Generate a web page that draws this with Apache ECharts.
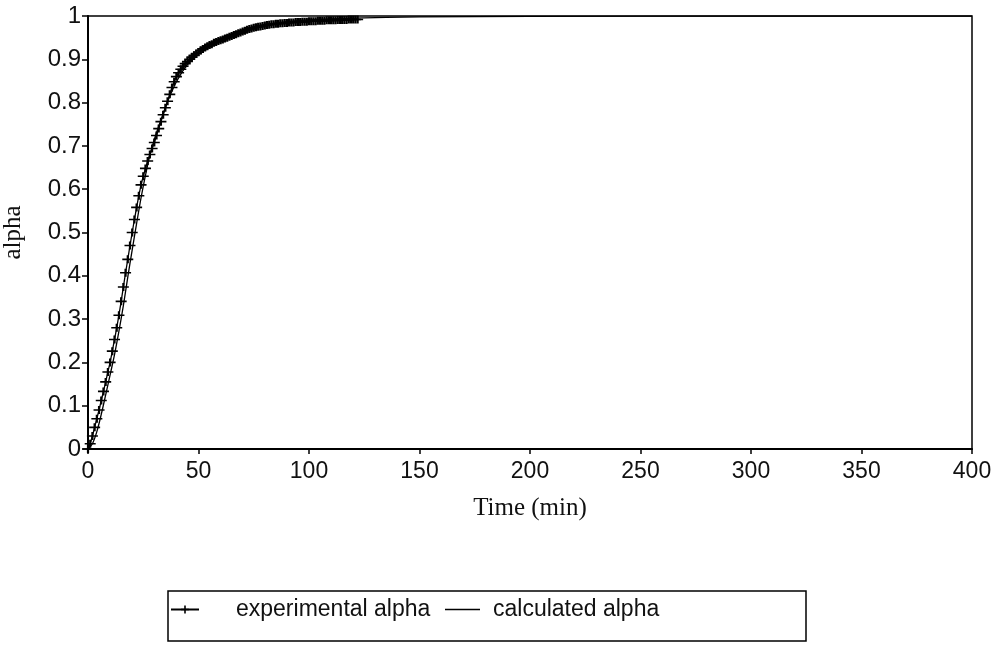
<!DOCTYPE html>
<html>
<head>
<meta charset="utf-8">
<script src="https://cdn.jsdelivr.net/npm/echarts@6/dist/echarts.min.js"></script>
<style>
html,body{margin:0;padding:0;background:#fff;}
#chart{width:1002px;height:646px;}
</style>
</head>
<body>
<div id="chart"></div>
<script>
// Experimental alpha, one reading per minute (t = 0..122 min)
var expTime = [0,1,2,3,4,5,6,7,8,9,10,11,12,13,14,15,16,17,18,19,20,21,22,23,24,25,26,27,28,29,30,31,32,33,34,35,36,37,38,39,40,41,42,43,44,45,46,47,48,49,50,51,52,53,54,55,56,57,58,59,60,61,62,63,64,65,66,67,68,69,70,71,72,73,74,75,76,77,78,79,80,81,82,83,84,85,86,87,88,89,90,91,92,93,94,95,96,97,98,99,100,101,102,103,104,105,106,107,108,109,110,111,112,113,114,115,116,117,118,119,120,121,122];
var expAlpha = [0.000,0.012,0.030,0.050,0.070,0.090,0.112,0.133,0.155,0.178,0.200,0.226,0.253,0.280,0.309,0.341,0.374,0.407,0.438,0.470,0.500,0.530,0.558,0.585,0.610,0.630,0.648,0.665,0.680,0.694,0.708,0.724,0.740,0.756,0.772,0.788,0.803,0.819,0.835,0.848,0.860,0.869,0.877,0.884,0.890,0.895,0.900,0.905,0.909,0.913,0.917,0.921,0.924,0.927,0.930,0.933,0.935,0.938,0.940,0.942,0.944,0.946,0.948,0.950,0.952,0.954,0.956,0.958,0.960,0.962,0.964,0.966,0.968,0.970,0.971,0.973,0.974,0.975,0.976,0.977,0.978,0.979,0.980,0.981,0.981,0.982,0.982,0.983,0.983,0.984,0.984,0.985,0.985,0.985,0.986,0.986,0.986,0.987,0.987,0.987,0.988,0.988,0.988,0.988,0.989,0.989,0.989,0.989,0.990,0.990,0.990,0.990,0.990,0.991,0.991,0.991,0.991,0.991,0.992,0.992,0.992,0.992,0.992];
// Calculated alpha
var calcTime = [0,2,4,6,8,10,12,14,16,18,20,22,24,26,28,30,33,36,40,45,50,55,60,70,80,90,100,120,150,200,300,400];
var calcAlpha = [0,0.012,0.040,0.080,0.125,0.171,0.218,0.272,0.331,0.397,0.460,0.521,0.580,0.632,0.678,0.715,0.760,0.802,0.848,0.889,0.915,0.934,0.948,0.968,0.980,0.987,0.991,0.995,0.998,0.999,1.0,1.0];
var seriesNames = ['experimental alpha','calculated alpha'];
var xTitle = 'Time (min)';
var yTitle = 'alpha';

function pairs(xs, ys){ return xs.map(function(x,i){ return [x, ys[i]]; }); }

var chart = echarts.init(document.getElementById('chart'), null, {renderer:'canvas'});
var sans = 'Liberation Sans';
var serif = 'Liberation Serif';
var plus = 'path://M0,4H10V6H0Z M4,0H6V10H4Z';

chart.setOption({
  backgroundColor:'#fff',
  animation:false,
  grid:{left:88,right:30,top:16,bottom:197,containLabel:false,outerBoundsMode:'none',show:true,borderColor:'#000',borderWidth:1.5,backgroundColor:'transparent'},
  xAxis:{
    type:'value',min:0,max:400,interval:50,
    name:xTitle,nameLocation:'middle',nameGap:47,
    nameTextStyle:{fontFamily:serif,fontSize:25,color:'#111'},
    axisLine:{show:true,onZero:false,lineStyle:{color:'#000',width:2}},
    axisTick:{show:true,inside:false,length:5,lineStyle:{color:'#000',width:1.5}},
    axisLabel:{margin:11,fontFamily:sans,fontSize:23,color:'#111'},
    splitLine:{show:false}
  },
  yAxis:{
    type:'value',min:0,max:1,interval:0.1,
    name:yTitle,nameLocation:'middle',nameGap:62,nameRotate:90,
    nameTextStyle:{fontFamily:serif,fontSize:25,color:'#111'},
    axisLine:{show:true,lineStyle:{color:'#000',width:2}},
    axisTick:{show:true,inside:false,length:6,lineStyle:{color:'#000',width:1.5}},
    axisLabel:{margin:7,fontFamily:sans,fontSize:24,color:'#111'},
    splitLine:{show:false}
  },
  legend:[{
    data:[seriesNames[0]],
    left:170,top:598,itemWidth:28,itemHeight:10,padding:0,
    formatter:function(n){return '{a|'+n+'}';},
    textStyle:{fontFamily:sans,fontSize:23,color:'#111',rich:{a:{fontFamily:sans,fontSize:23,color:'#111',padding:[0,0,0,32]}}}
  },{
    data:[{name:seriesNames[1],icon:'rect'}],
    left:445,top:598,itemWidth:35,itemHeight:1.5,padding:0,
    formatter:function(n){return '{a|'+n+'}';},
    textStyle:{fontFamily:sans,fontSize:23,color:'#111',rich:{a:{fontFamily:sans,fontSize:23,color:'#111',padding:[0,0,0,8]}}}
  }],
  graphic:[{
    type:'rect',shape:{x:168,y:591,width:638,height:50},
    style:{fill:'none',stroke:'#000',lineWidth:1.5},silent:true
  }],
  series:[{
    name:seriesNames[0],type:'line',
    data:pairs(expTime,expAlpha),
    symbol:plus,symbolSize:[11,8],showAllSymbol:true,
    itemStyle:{color:'#000'},
    lineStyle:{color:'#000',width:1.3},
    z:3
  },{
    name:seriesNames[1],type:'line',
    data:pairs(calcTime,calcAlpha),
    smooth:0.3,showSymbol:false,symbol:'none',
    itemStyle:{color:'#000'},
    lineStyle:{color:'#000',width:1.3},
    z:4
  }]
});
</script>
</body>
</html>
